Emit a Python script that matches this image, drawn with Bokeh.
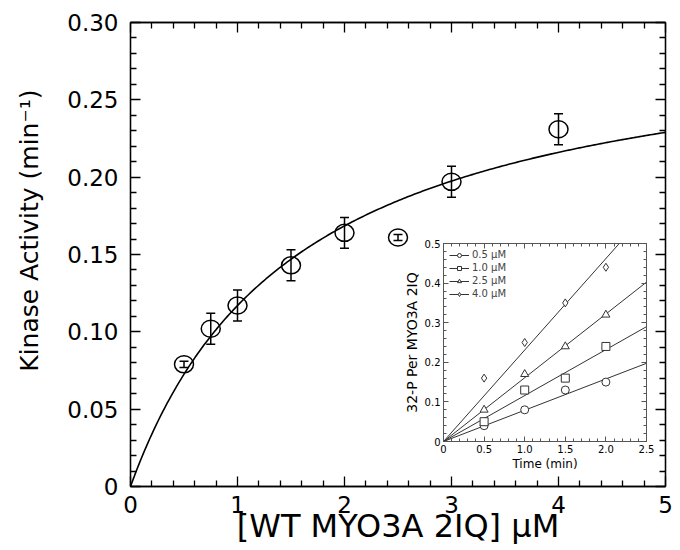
import numpy as np
from bokeh.plotting import figure
from bokeh.models import (ColumnDataSource, Whisker, TeeHead, LinearAxis, Range1d, GridBox,
                          FixedTicker, CustomJSTickFormatter, Legend, LegendItem,
                          CustomLabelingPolicy)
from bokeh.embed import file_html
from bokeh.resources import INLINE

# ---------------- data: main plot ----------------
conc = [0.5, 0.75, 1.0, 1.5, 2.0, 2.5, 3.0, 4.0]
activity = [0.079, 0.102, 0.117, 0.143, 0.164, 0.161, 0.197, 0.231]
activity_err = [0.002, 0.010, 0.010, 0.010, 0.010, 0.002, 0.010, 0.010]
fit_vmax = 0.301   # hyperbolic fit shown as the curve
fit_km = 1.573
x_major = [0, 1, 2, 3, 4, 5]
y_major = [0, 0.05, 0.10, 0.15, 0.20, 0.25, 0.30]

# ---------------- data: inset ----------------
time_min = [0.5, 1.0, 1.5, 2.0]
p32_05 = [0.04, 0.08, 0.13, 0.15]
p32_10 = [0.05, 0.13, 0.16, 0.24]
p32_25 = [0.08, 0.17, 0.24, 0.32]
p32_40 = [0.16, 0.25, 0.35, 0.44]
inset_labels = ["0.5 \u00b5M", "1.0 \u00b5M", "2.5 \u00b5M", "4.0 \u00b5M"]
inset_slopes = [0.079, 0.116, 0.161, 0.231]   # linear fits through origin
inset_markers = ["circle", "square", "triangle", "diamond"]
ix_major = [0, 0.5, 1.0, 1.5, 2.0, 2.5]
iy_major = [0, 0.1, 0.2, 0.3, 0.4, 0.5]

FONT = "DejaVu Sans"

NO_LABELS = """
try { indices.clear(); }
catch (e) { for (const i of Array.from(indices)) { indices.unset(i); } }
return indices;
"""


def minor_between(major, n):
    out = []
    for a, b in zip(major[:-1], major[1:]):
        out += [round(a + (b - a) * k / n, 6) for k in range(1, n)]
    return out


def style_axis(ax, major, minor, lab_size, lw, color="black"):
    ax.major_tick_in = major
    ax.major_tick_out = 0
    ax.minor_tick_in = minor
    ax.minor_tick_out = 0
    ax.axis_line_color = color
    ax.axis_line_width = lw
    ax.major_tick_line_width = lw
    ax.minor_tick_line_width = lw
    ax.major_tick_line_color = color
    ax.minor_tick_line_color = color
    ax.major_label_text_font = FONT
    ax.major_label_text_font_size = lab_size
    ax.major_label_text_color = "black"
    ax.axis_label_text_font = FONT
    ax.axis_label_text_font_style = "normal"
    ax.axis_label_text_color = "black"


def mirror_axis(fig, tk, major, minor, lw, color, loc):
    ax = LinearAxis(ticker=tk, major_label_policy=CustomLabelingPolicy(code=NO_LABELS))
    style_axis(ax, major, minor, "0px", lw, color)
    ax.major_label_standoff = 0
    fig.add_layout(ax, loc)


# ---------------- main figure ----------------
p = figure(width=680, height=550, x_range=Range1d(0, 5), y_range=Range1d(0, 0.30),
           output_backend="svg", toolbar_location=None,
           min_border_left=130, min_border_right=15, min_border_top=22, min_border_bottom=64,
           background_fill_color="white", border_fill_color="white")
p.grid.visible = False
p.outline_line_color = "black"
p.outline_line_width = 1.3

xt = FixedTicker(ticks=x_major, minor_ticks=minor_between(x_major, 5))
yt = FixedTicker(ticks=y_major, minor_ticks=minor_between(y_major, 5))
p.xaxis.ticker = xt
p.yaxis.ticker = yt
p.xaxis.formatter = CustomJSTickFormatter(code="return tick == 0 ? '0' : tick.toFixed(0);")
p.yaxis.formatter = CustomJSTickFormatter(code="return Math.abs(tick) < 1e-9 ? '0' : tick.toFixed(2);")

for ax in p.xaxis + p.yaxis:
    style_axis(ax, 10, 6, "23px", 1.3)
p.xaxis.major_label_standoff = 9
p.yaxis.major_label_standoff = 12
p.xaxis.axis_label = "[WT MYO3A 2IQ] \u00b5M"
p.yaxis.axis_label = "\u00a0" * 6 + "Kinase Activity (min\u207b\u00b9)"
p.xaxis.axis_label_text_font_size = "32px"
p.yaxis.axis_label_text_font_size = "25px"
p.xaxis.axis_label_standoff = -9
p.yaxis.axis_label_standoff = 20

mirror_axis(p, xt, 10, 6, 1.3, "black", "above")
mirror_axis(p, yt, 10, 6, 1.3, "black", "right")

src = ColumnDataSource(dict(x=conc, y=activity,
                            upper=[a + e for a, e in zip(activity, activity_err)],
                            lower=[a - e for a, e in zip(activity, activity_err)]))

fx = np.linspace(0, 5, 250)
p.line(fx, fit_vmax * fx / (fit_km + fx), line_color="black", line_width=1.6)

p.add_layout(Whisker(source=src, base="x", upper="upper", lower="lower", line_width=1.5,
                     line_color="black",
                     upper_head=TeeHead(size=9, line_width=1.5, line_color="black"),
                     lower_head=TeeHead(size=9, line_width=1.5, line_color="black")))
p.ellipse(x="x", y="y", width=19, height=17, width_units="screen", height_units="screen",
          source=src, fill_color=None, line_color="black", line_width=1.5)

# ---------------- inset ----------------
GR = "#555555"
inset = figure(width=261, height=242, x_range=Range1d(0, 2.5), y_range=Range1d(0, 0.5),
               output_backend="svg", toolbar_location=None,
               min_border_left=50, min_border_right=8, min_border_top=8, min_border_bottom=36,
               background_fill_color="white", border_fill_color=None)
inset.grid.visible = False
inset.outline_line_color = GR
ixt = FixedTicker(ticks=ix_major, minor_ticks=minor_between(ix_major, 5))
iyt = FixedTicker(ticks=iy_major, minor_ticks=minor_between(iy_major, 5))
inset.xaxis.ticker = ixt
inset.yaxis.ticker = iyt
fmt1 = CustomJSTickFormatter(code="return Math.abs(tick) < 1e-9 ? '0' : tick.toFixed(1);")
inset.xaxis.formatter = fmt1
inset.yaxis.formatter = fmt1
for ax in inset.xaxis + inset.yaxis:
    style_axis(ax, 5, 3, "10px", 1, GR)
    ax.major_label_standoff = 3
inset.xaxis.axis_label = "Time (min)"
inset.yaxis.axis_label = "32-P Per MYO3A 2IQ"
inset.xaxis.axis_label_text_font_size = "12px"
inset.yaxis.axis_label_text_font_size = "14px"
inset.xaxis.axis_label_standoff = 1
inset.yaxis.axis_label_standoff = 2
mirror_axis(inset, ixt, 5, 3, 1, GR, "above")
mirror_axis(inset, iyt, 5, 3, 1, GR, "right")

items = []
for series, slope, lab, mk in zip([p32_05, p32_10, p32_25, p32_40], inset_slopes,
                                  inset_labels, inset_markers):
    lr = inset.line([0, 2.5], [0, slope * 2.5], line_color="#333333", line_width=1)
    sr = inset.scatter(time_min, series, marker=mk, size=8, fill_color="white",
                       line_color="#333333", line_width=1)
    items.append(LegendItem(label=lab, renderers=[lr, sr]))

leg = Legend(items=items, location="top_left", label_text_font=FONT, label_text_font_size="10px",
             glyph_width=20, glyph_height=10, label_height=10, spacing=2, padding=2,
             margin=4, background_fill_alpha=0, border_line_alpha=0, label_standoff=3)
inset.add_layout(leg, "center")

grid = GridBox(children=[(p, 0, 0, 3, 3), (inset, 1, 1, 1, 1)],
               rows=["235px", "242px", "73px"], cols=["393px", "261px", "26px"])

open("out.html", "w").write(file_html(grid, INLINE))
